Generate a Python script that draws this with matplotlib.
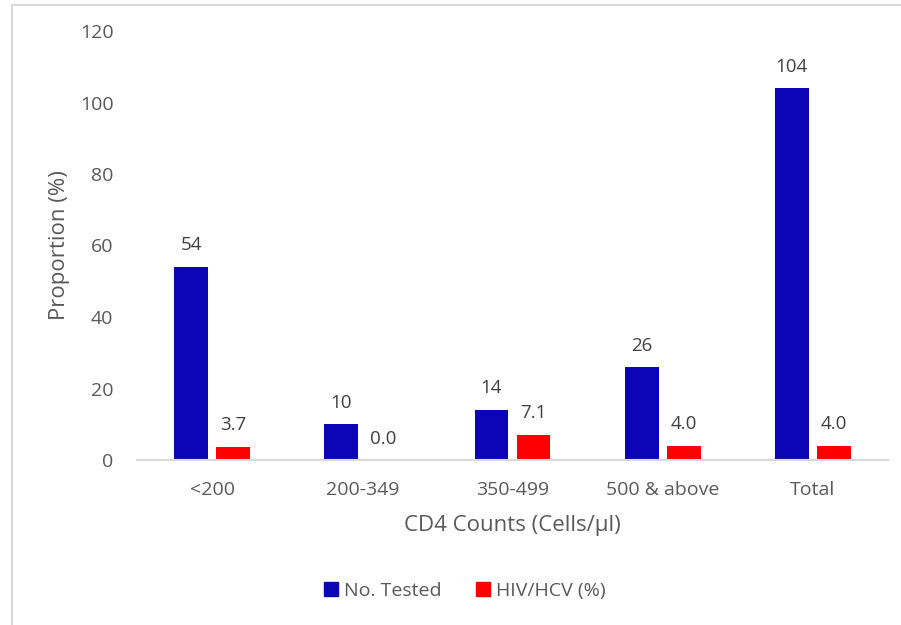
import matplotlib
matplotlib.use("Agg")
import matplotlib.pyplot as plt
import numpy as np
from matplotlib.lines import Line2D

categories = ["<200", "200-349", "350-499", "500 & above", "Total"]
no_tested = [54, 10, 14, 26, 104]
hiv_hcv = [3.7, 0.0, 7.1, 4.0, 4.0]
no_tested_labels = ["54", "10", "14", "26", "104"]
hiv_hcv_labels = ["3.7", "0.0", "7.1", "4.0", "4.0"]
yticks = [0, 20, 40, 60, 80, 100, 120]

plt.rcParams['font.family'] = ['Open Sans', 'DejaVu Sans']
txt = '#595959'
blue = '#0C05B5'
red = '#FF0000'

fig = plt.figure(figsize=(9.01, 6.25), dpi=100)
ax = fig.add_axes([137/901, 1-460/625, (888-137)/901, (460-31)/625])

x = np.arange(len(categories))
w = 0.225
off = 0.14
ax.bar(x - off, no_tested, w, color=blue, label='No. Tested')
ax.bar(x + off, hiv_hcv, w, color=red, label='HIV/HCV (%)')

for xi, v, l in zip(x, no_tested, no_tested_labels):
    ax.annotate(l, (xi - off, v), xytext=(0, 9), textcoords='offset points',
                ha='center', va='bottom', fontsize=13.5, color='#404040')
for xi, v, l in zip(x, hiv_hcv, hiv_hcv_labels):
    ax.annotate(l, (xi + off, v), xytext=(0, 9), textcoords='offset points',
                ha='center', va='bottom', fontsize=13.5, color='#404040')

ax.set_xlim(-0.5, len(categories) - 0.5)
ax.set_ylim(0, 120)
ax.set_yticks(yticks)
ax.set_xticks(x)
ax.set_xticklabels(categories)
for s in ['top', 'right', 'left']:
    ax.spines[s].set_visible(False)
ax.spines['bottom'].set_color('#D9D9D9')
ax.spines['bottom'].set_linewidth(1.5)
ax.tick_params(axis='both', length=0, labelsize=14, labelcolor=txt)
ax.tick_params(axis='y', pad=17)
ax.tick_params(axis='x', pad=15)
ax.set_ylabel('Proportion (%)', fontsize=16, color=txt, labelpad=7)
ax.set_xlabel('CD4 Counts (Cells/µl)', fontsize=16, color=txt, labelpad=12)

handles = [plt.Rectangle((0, 0), 1, 1, color=blue), plt.Rectangle((0, 0), 1, 1, color=red)]
leg = fig.legend(handles, ['No. Tested', 'HIV/HCV (%)'], loc='center',
                 bbox_to_anchor=(465/901, 1-591/625), ncol=2, frameon=False,
                 fontsize=14, handlelength=0.7, handleheight=0.7, handletextpad=0.3,
                 columnspacing=1.8)
for t in leg.get_texts():
    t.set_color(txt)

# outer border lines
fig.add_artist(Line2D([11.5/901, 11.5/901], [0, 1-5/625], color='#D9D9D9', lw=1.5, transform=fig.transFigure))
fig.add_artist(Line2D([11.5/901, 1], [1-5/625, 1-5/625], color='#D9D9D9', lw=1.5, transform=fig.transFigure))

fig.savefig('out.png', dpi=100)
